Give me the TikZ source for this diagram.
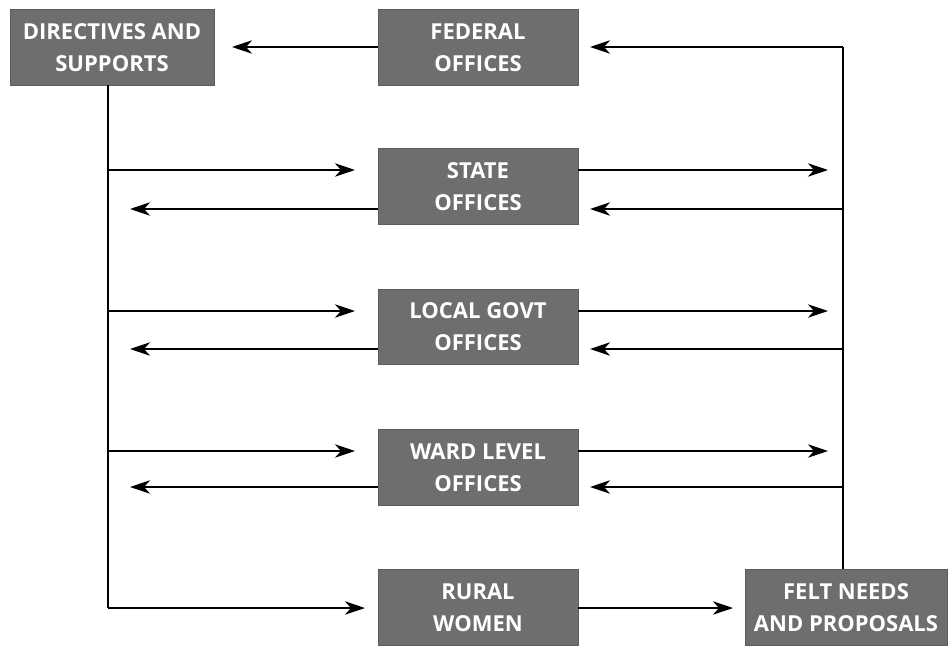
\documentclass[tikz,border=0pt]{standalone}
\usepackage{fontspec}
\setmainfont{Open Sans}
\usetikzlibrary{arrows.meta}
\definecolor{boxgray}{HTML}{6E6E6E}
\begin{document}
\begin{tikzpicture}[x=0.75pt,y=-0.75pt,
  office/.style={draw=boxgray!85!black,fill=boxgray,text=white,font=\bfseries\fontsize{16.5}{24}\selectfont,
    align=center,minimum width=150pt,minimum height=56.5pt,inner sep=0pt,line width=0.6pt},
  conn/.style={line width=1.6pt,-{Stealth[length=15pt,width=10pt,inset=4.5pt]}},
  plain/.style={line width=1.3pt}]
\useasboundingbox (0,0) rectangle (952,649);
\node[office,minimum width=153pt] (dir) at (112,47.5) {DIRECTIVES AND\\SUPPORTS};
\node[office] (fed) at (478,47.5) {FEDERAL\\OFFICES};
\node[office] (state) at (478,186.5) {STATE\\OFFICES};
\node[office] (local) at (478,327) {LOCAL GOVT\\OFFICES};
\node[office] (ward) at (478,467.5) {WARD LEVEL\\OFFICES};
\node[office] (rural) at (478,607.5) {RURAL\\WOMEN};
\node[office,minimum width=151.5pt] (felt) at (846,607.5) {FELT NEEDS\\AND PROPOSALS};
% spine coordinates
\coordinate (ltop) at (108,85);
\coordinate (lbot) at (108,608);
\coordinate (rtop) at (843,47);
\coordinate (l1) at (108,170);
\coordinate (l2) at (108,311);
\coordinate (l3) at (108,451);
\coordinate (r1) at (843,209);
\coordinate (r2) at (843,349);
\coordinate (r3) at (843,487);
% ends
\coordinate (a0) at (232,47);
\coordinate (b0) at (590,47);
\coordinate (a1) at (355,170);
\coordinate (a2) at (355,311);
\coordinate (a3) at (355,451);
\coordinate (c1) at (130,209);
\coordinate (c2) at (130,349);
\coordinate (c3) at (130,487);
\coordinate (d1) at (828,170);
\coordinate (d2) at (828,311);
\coordinate (d3) at (828,451);
\coordinate (e1) at (590,209);
\coordinate (e2) at (590,349);
\coordinate (e3) at (590,487);
\coordinate (rw) at (365,608);
\coordinate (fw) at (733,608);
% spines
\draw[plain] (ltop) -- (lbot);
\draw[plain] (felt.north -| rtop) -- (rtop);
% federal
\draw[conn] (fed.west |- a0) -- (a0);
\draw[conn] (rtop) -- (b0);
% left to offices
\draw[conn] (l1) -- (a1);
\draw[conn] (l2) -- (a2);
\draw[conn] (l3) -- (a3);
\draw[conn] (lbot) -- (rw);
% offices to left
\draw[conn] (state.west |- c1) -- (c1);
\draw[conn] (local.west |- c2) -- (c2);
\draw[conn] (ward.west |- c3) -- (c3);
% offices to right
\draw[conn] (state.east |- d1) -- (d1);
\draw[conn] (local.east |- d2) -- (d2);
\draw[conn] (ward.east |- d3) -- (d3);
% right to offices
\draw[conn] (r1) -- (e1);
\draw[conn] (r2) -- (e2);
\draw[conn] (r3) -- (e3);
% rural to felt
\draw[conn] (rural.east |- fw) -- (fw);
\end{tikzpicture}
\end{document}
